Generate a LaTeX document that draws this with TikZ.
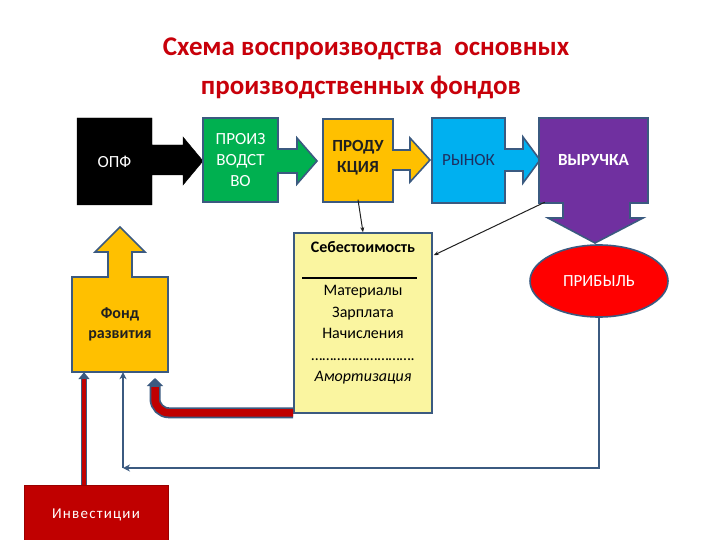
\documentclass[tikz,border=0pt]{standalone}
\usepackage{fontspec}
\setmainfont{Carlito}
\usetikzlibrary{arrows.meta,calc,shapes.geometric}
\definecolor{olc}{HTML}{3B5A80}
\definecolor{ttl}{HTML}{C8000A}
\definecolor{cgreen}{HTML}{00B050}
\definecolor{corange}{HTML}{FFC000}
\definecolor{cblue}{HTML}{00B0F0}
\definecolor{cpurple}{HTML}{7030A0}
\definecolor{cyell}{HTML}{FAF5A0}
\definecolor{cinv}{HTML}{C00000}
\definecolor{cdark}{HTML}{202020}
\definecolor{cnavy}{HTML}{1F2F5F}
\tikzset{
  shp/.style={draw=olc, line width=1.6pt, line join=miter},
  area/.style={inner sep=0, align=center},
  bt/.style={font=\fontsize{17}{21}\selectfont},
  btb/.style={font=\bfseries\fontsize{17}{21}\selectfont},
  loopline/.style={draw=olc, line width=2.8pt, -{Stealth[length=7pt,width=7pt]}},
  thinl/.style={draw=cdark, line width=1pt, -{Stealth[length=5pt,width=4pt]}},
}
\begin{document}
\begin{tikzpicture}[x=1pt,y=-1pt]
\useasboundingbox (0,0) rectangle (720,540);
\clip (0,0) rectangle (720,540);
\fill[white] (0,0) rectangle (720,540);
% title
\node[font=\bfseries\fontsize{27}{30}\selectfont, text=ttl] (t1) at (366,49) {Схема воспроизводства\ \ основных};
\node[font=\bfseries\fontsize{27}{30}\selectfont, text=ttl] (t2) at (361,87) {производственных фондов};
% shapes
\draw[fill=black, draw=black] (77,118) -- (152,118) -- (152,145) -- (183,145) -- (183,137) -- (203,161) -- (183,185) -- (183,175) -- (152,175) -- (152,205) -- (77,205) -- cycle;
\draw[shp, fill=cgreen] (203,118) -- (278,118) -- (278,149) -- (297,149) -- (297,138) -- (317,161) -- (297,184) -- (297,173) -- (278,173) -- (278,202) -- (203,202) -- cycle;
\draw[shp, fill=corange] (323,119) -- (393,119) -- (393,150) -- (410,150) -- (410,138) -- (430,160) -- (410,182) -- (410,170) -- (393,170) -- (393,202) -- (323,202) -- cycle;
\draw[shp, fill=cblue] (432,118) -- (505,118) -- (505,149) -- (523,149) -- (523,137) -- (540,160) -- (523,183) -- (523,171) -- (505,171) -- (505,203) -- (432,203) -- cycle;
\draw[shp, fill=cpurple] (539,118) -- (648,118) -- (648,203) -- (630,203) -- (630,218) -- (643,218) -- (595,243) -- (548,218) -- (563,218) -- (563,203) -- (539,203) -- cycle;
\draw[shp, fill=corange] (72,277) -- (108,277) -- (108,252) -- (95,252) -- (120,227) -- (145,252) -- (132,252) -- (132,277) -- (168,277) -- (168,372) -- (72,372) -- cycle;
% nodes
\node[area, bt, text=white, minimum width=75pt, minimum height=87pt] (opf) at (114.5,161.5) {ОПФ};
\node[area, bt, text=white, minimum width=75pt, minimum height=84pt] (proizv) at (240.5,160) {ПРОИЗ\\ВОДСТ\\ВО};
\node[area, btb, text=cdark, minimum width=70pt, minimum height=83pt] (prod) at (358,158) {ПРОДУ\\КЦИЯ};
\node[area, bt, text=cnavy, minimum width=73pt, minimum height=85pt] (rynok) at (468.5,160.5) {РЫНОК};
\node[area, btb, text=white, minimum width=109pt, minimum height=85pt] (vyr) at (593.5,160.5) {ВЫРУЧКА};
\node[area, shp, ellipse, fill=red, text=white, bt, minimum width=138pt, minimum height=72pt] (prib) at (599,281) {ПРИБЫЛЬ};
\node[area, text=cdark, font=\bfseries\fontsize{16}{20}\selectfont, minimum width=96pt, minimum height=95pt] (fond) at (120,324.5) {Фонд\\развития};
\node[area, shp, fill=cyell, minimum width=138pt, minimum height=180pt] (seb) at (363,323) {};
\node[area, font=\bfseries\fontsize{16}{20}\selectfont] (sebt) at (363,247) {Себестоимость};
\draw[black, line width=1.4pt] (302,278) -- (417,278);
\node[area, font=\fontsize{16}{21.5}\selectfont] (sebl) at (363,335) {Материалы\\Зарплата\\Начисления\\……………………….\\\textit{Амортизация}};
\node[area, draw=cinv!80!black, line width=1pt, fill=cinv, text=white, font=\fontsize{15}{18}\selectfont\addfontfeature{LetterSpace=8}, minimum width=144pt, minimum height=60pt] (inv) at (96,515) {Инвестиции};
% connectors
\draw[thinl] (prod.south) -- (seb.north);
\coordinate (vyrp) at ($(vyr.south west)+(6,-1)$);
\coordinate (sebp) at ($(seb.north east)+(1,23)$);
\draw[thinl] (vyrp) -- (sebp);
\coordinate (cnr) at (123,468);
\draw[loopline] (prib.south) |- (cnr);
\draw[loopline] (cnr) -- (fond.south -| cnr);
\coordinate (rx) at (84,0);
\draw[draw=olc, line width=6pt, -{Triangle[length=7pt,width=11pt]}] (inv.north -| rx) -- (fond.south -| rx);
\draw[draw=cinv, line width=3.4pt, shorten >=7pt] (inv.north -| rx) -- (fond.south -| rx);
\coordinate (amtip) at (155,378);
\draw[draw=olc, line width=11pt, rounded corners=14pt, -{Triangle[length=8pt,width=16pt]}] (seb.south west) ++(0,-1) -| (amtip);
\draw[draw=cinv, line width=7.5pt, rounded corners=14pt, shorten >=9pt] (seb.south west) ++(0,-1) -| (amtip);
\end{tikzpicture}
\end{document}
